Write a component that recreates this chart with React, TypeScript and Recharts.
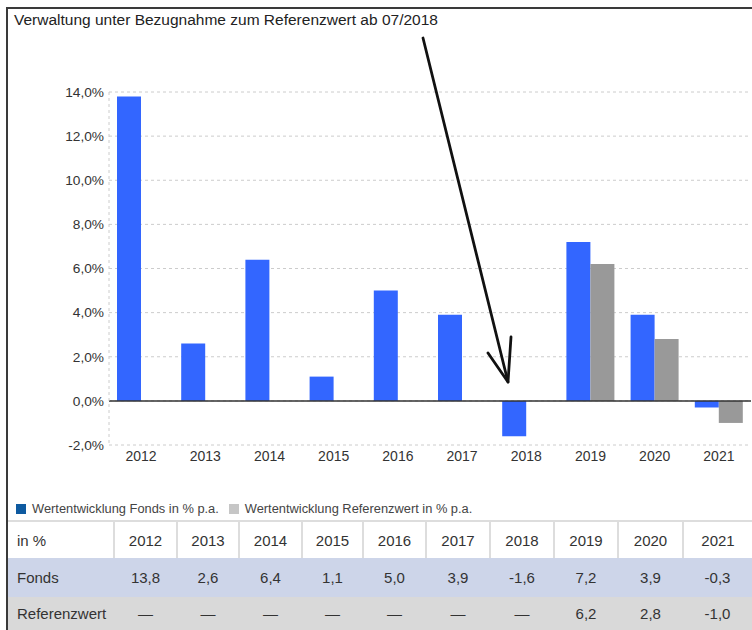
import React from 'react';
import { BarChart, Bar, XAxis, YAxis, CartesianGrid, ReferenceLine } from 'recharts';

const title = 'Verwaltung unter Bezugnahme zum Referenzwert ab 07/2018';
const years = ['2012', '2013', '2014', '2015', '2016', '2017', '2018', '2019', '2020', '2021'];
const fonds: (number | null)[] = [13.8, 2.6, 6.4, 1.1, 5.0, 3.9, -1.6, 7.2, 3.9, -0.3];
const referenz: (number | null)[] = [null, null, null, null, null, null, null, 6.2, 2.8, -1.0];
const yTicks = [-2, 0, 2, 4, 6, 8, 10, 12, 14];
const seriesNames = ['Wertentwicklung Fonds in % p.a.', 'Wertentwicklung Referenzwert in % p.a.'];
const rowLabels = ['in %', 'Fonds', 'Referenzwert'];

const data = years.map((y, i) => ({ year: y, fonds: fonds[i], referenz: referenz[i] }));

const FONT = '"Liberation Sans", Arial, Helvetica, sans-serif';
const BLUE = '#3366ff';
const GREY = '#999999';

const fmtPct = (v: number) => v.toFixed(1).replace('.', ',') + '%';
const fmtVal = (v: number | null) => (v === null ? '—' : v.toFixed(1).replace('.', ','));

const colWidths = [106, 63, 62, 63, 61, 63, 64, 64, 64, 65, 69];

export default function App() {
  const cellBase: React.CSSProperties = {
    padding: 0,
    textAlign: 'center',
    fontSize: 15,
    color: '#333',
    fontFamily: FONT,
  };
  return (
    <div
      style={{
        position: 'absolute',
        left: 0,
        top: 0,
        width: 752,
        height: 630,
        overflow: 'hidden',
        background: '#fff',
        fontFamily: FONT,
      }}
    >
      {/* frame */}
      <div style={{ position: 'absolute', left: 6, top: 7, width: 760, height: 700, borderTop: '2px solid #3a3a3a', borderLeft: '2px solid #3a3a3a' }} />
      <div style={{ position: 'absolute', left: 14, top: 11, fontSize: 15.5, color: '#222', whiteSpace: 'nowrap' }}>{title}</div>

      <div style={{ position: 'absolute', left: 0, top: 0 }}>
        <BarChart
          width={752}
          height={490}
          data={data}
          margin={{ top: 92, right: 1, left: 0, bottom: 15 }}
          barGap={0}
          barSize={24}
        >
          <CartesianGrid vertical={false} stroke="#cccccc" strokeDasharray="3 3" />
          <XAxis
            dataKey="year"
            axisLine={false}
            tickLine={false}
            tickSize={0}
            tickMargin={6}
            height={30}
            tick={{ fontSize: 14, fill: '#333', fontFamily: FONT }}
            interval={0}
          />
          <YAxis
            width={109}
            domain={[-2, 14]}
            ticks={yTicks}
            tickFormatter={fmtPct}
            axisLine={{ stroke: '#cccccc', strokeDasharray: '3 3' }}
            tickLine={false}
            tickSize={0}
            tickMargin={5}
            tick={{ fontSize: 13.7, fill: '#333', fontFamily: FONT }}
          />
          <ReferenceLine y={0} stroke="#333" strokeWidth={1.5} />
          <Bar dataKey="fonds" fill={BLUE} isAnimationActive={false} />
          <Bar dataKey="referenz" fill={GREY} isAnimationActive={false} />
        </BarChart>
      </div>

      {/* annotation arrow */}
      <svg width={752} height={630} style={{ position: 'absolute', left: 0, top: 0, pointerEvents: 'none' }}>
        <path d="M423,38 L508,382" stroke="#111" strokeWidth={2.8} fill="none" strokeLinecap="round" />
        <path d="M488,353 L508,382 L511,337" stroke="#111" strokeWidth={2.8} fill="none" strokeLinecap="round" strokeLinejoin="round" />
      </svg>

      {/* legend */}
      <div style={{ position: 'absolute', left: 16, top: 501, fontSize: 12.85, color: '#444', display: 'flex', alignItems: 'center', whiteSpace: 'nowrap' }}>
        <span style={{ display: 'inline-block', width: 10, height: 10, background: '#0e5aa0', marginRight: 6 }} />
        <span style={{ marginRight: 10 }}>{seriesNames[0]}</span>
        <span style={{ display: 'inline-block', width: 10, height: 10, background: '#c6c6c6', marginRight: 6 }} />
        <span>{seriesNames[1]}</span>
      </div>

      {/* table */}
      <table
        style={{
          position: 'absolute',
          left: 8,
          top: 520,
          width: 744,
          borderCollapse: 'collapse',
          tableLayout: 'fixed',
        }}
      >
        <colgroup>
          {colWidths.map((w, i) => (
            <col key={i} style={{ width: w }} />
          ))}
        </colgroup>
        <tbody>
          <tr style={{ height: 37, background: '#fff', borderTop: '2px solid #dddddd' }}>
            <td style={{ ...cellBase, textAlign: 'left', paddingLeft: 9, borderRight: '2px solid #dddddd' }}>{rowLabels[0]}</td>
            {years.map((y, i) => (
              <td key={y} style={{ ...cellBase, borderRight: i < years.length - 1 ? '2px solid #dddddd' : 'none' }}>{y}</td>
            ))}
          </tr>
          <tr style={{ height: 39, background: '#cdd5e9' }}>
            <td style={{ ...cellBase, textAlign: 'left', paddingLeft: 9 }}>{rowLabels[1]}</td>
            {fonds.map((v, i) => (
              <td key={i} style={cellBase}>{fmtVal(v)}</td>
            ))}
          </tr>
          <tr style={{ height: 36, background: '#d9d9d9' }}>
            <td style={{ ...cellBase, textAlign: 'left', paddingLeft: 9, paddingBottom: 3 }}>{rowLabels[2]}</td>
            {referenz.map((v, i) => (
              <td key={i} style={{ ...cellBase, paddingBottom: 3 }}>{fmtVal(v)}</td>
            ))}
          </tr>
        </tbody>
      </table>
    </div>
  );
}
